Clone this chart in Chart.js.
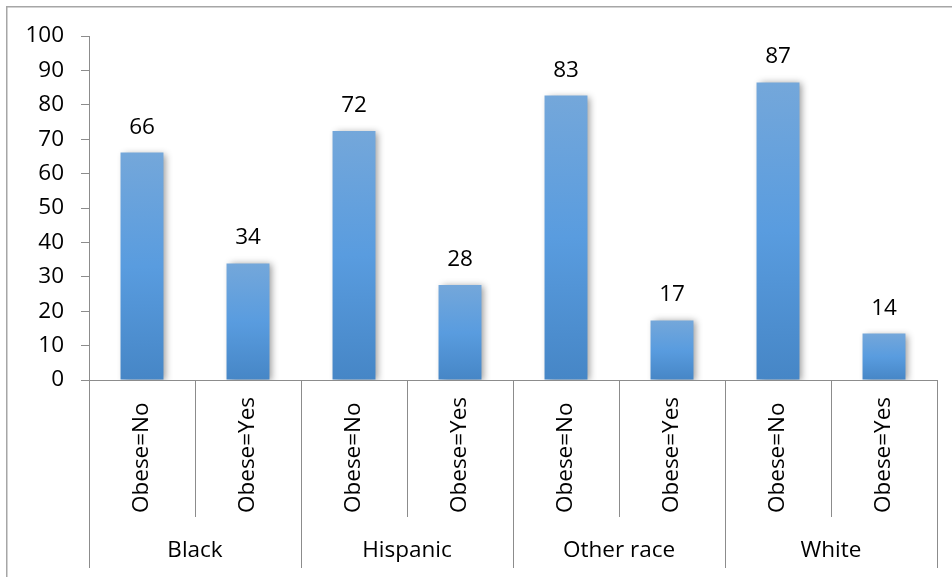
<!DOCTYPE html>
<html>
<head>
<meta charset="utf-8">
<script src="https://cdn.jsdelivr.net/npm/chart.js@4/dist/chart.umd.min.js"></script>
<style>
html,body{margin:0;padding:0;background:#fff;}
#wrap{width:952px;height:577px;position:relative;}
</style>
</head>
<body>
<div id="wrap"><canvas id="c" width="952" height="577"></canvas></div>
<script>
const groups = ["Black", "Hispanic", "Other race", "White"];
const subLabels = ["Obese=No", "Obese=Yes", "Obese=No", "Obese=Yes", "Obese=No", "Obese=Yes", "Obese=No", "Obese=Yes"];
const values = [66.1, 33.9, 72.4, 27.6, 82.7, 17.3, 86.5, 13.5];
const yTicks = [0, 10, 20, 30, 40, 50, 60, 70, 80, 90, 100];

const FONT = "'Open Sans', sans-serif";
const FSIZE = 22.5;
const AXIS_GRAY = "#8c8c8c";

function barGradient(ctx) {
  const chart = ctx.chart;
  const ys = chart.scales.y;
  if (!ys || ctx.type !== 'data') return '#5b9bd5';
  const top = ys.getPixelForValue(ctx.parsed.y);
  const bottom = ys.getPixelForValue(0);
  if (!isFinite(top) || !isFinite(bottom) || top === bottom) return '#5b9bd5';
  const g = chart.ctx.createLinearGradient(0, top, 0, bottom);
  g.addColorStop(0, '#74a7da');
  g.addColorStop(0.5, '#599cdf');
  g.addColorStop(1, '#4686c6');
  return g;
}

const shadowPlugin = {
  id: 'shadow',
  beforeDatasetsDraw(chart) {
    const c = chart.ctx;
    c.save();
    c.shadowColor = 'rgba(0,0,0,0.4)';
    c.shadowBlur = 7;
    c.shadowOffsetX = 3;
    c.shadowOffsetY = 1;
  },
  afterDatasetsDraw(chart) {
    chart.ctx.restore();
  }
};

const decoPlugin = {
  id: 'deco',
  afterDraw(chart) {
    const c = chart.ctx;
    const xs = chart.scales.x;
    const ys = chart.scales.y;
    const area = chart.chartArea;
    const base = ys.getPixelForValue(0);
    c.save();
    c.strokeStyle = '#a6a6a6';
    c.lineWidth = 1.5;
    c.beginPath();
    c.moveTo(6.75, 577);
    c.lineTo(6.75, 6.75);
    c.lineTo(952, 6.75);
    c.stroke();

    c.fillStyle = '#000';
    c.font = FSIZE + "px " + FONT;
    c.textAlign = 'center';
    c.textBaseline = 'alphabetic';
    const meta = chart.getDatasetMeta(0);
    meta.data.forEach((bar, i) => {
      c.fillText(String(Math.round(values[i])), bar.x, bar.y - 19);
    });

    c.strokeStyle = AXIS_GRAY;
    c.lineWidth = 1;
    c.beginPath();
    c.moveTo(area.left, Math.round(base) + 0.5);
    c.lineTo(area.right, Math.round(base) + 0.5);
    c.stroke();

    const n = subLabels.length;
    const half = (xs.getPixelForValue(1) - xs.getPixelForValue(0)) / 2;
    for (let i = 0; i <= n; i++) {
      const x = Math.round(i < n ? xs.getPixelForValue(i) - half : xs.getPixelForValue(n - 1) + half) + 0.5;
      const isGroup = i % 2 === 0;
      c.beginPath();
      c.moveTo(x, base);
      c.lineTo(x, isGroup ? 568 : 517);
      c.stroke();
    }

    c.fillStyle = '#000';
    c.font = FSIZE + "px " + FONT;
    for (let i = 0; i < n; i++) {
      const x = xs.getPixelForValue(i);
      c.save();
      c.translate(x, 513);
      c.rotate(-Math.PI / 2);
      c.textAlign = 'left';
      c.textBaseline = 'middle';
      c.fillText(subLabels[i], 0, 0);
      c.restore();
    }
    c.textAlign = 'center';
    c.textBaseline = 'middle';
    for (let g = 0; g < groups.length; g++) {
      const x = (xs.getPixelForValue(2 * g) + xs.getPixelForValue(2 * g + 1)) / 2;
      c.fillText(groups[g], x, 551);
    }
    c.restore();
  }
};

new Chart(document.getElementById('c'), {
  type: 'bar',
  data: {
    labels: subLabels.map((s, i) => groups[Math.floor(i / 2)] + ' ' + s),
    datasets: [{
      data: values,
      backgroundColor: barGradient,
      borderWidth: 0,
      barPercentage: 0.405,
      categoryPercentage: 1.0
    }]
  },
  options: {
    responsive: false,
    animation: false,
    devicePixelRatio: 1,
    layout: { padding: { top: 36, right: 15, bottom: 197, left: 0 } },
    plugins: {
      legend: { display: false },
      tooltip: { enabled: false }
    },
    scales: {
      x: {
        display: false,
        offset: true
      },
      y: {
        min: 0,
        max: 100,
        afterFit(scale) { scale.width = 89; },
        afterBuildTicks(scale) { scale.ticks = yTicks.map(v => ({ value: v })); },
        ticks: {
          color: '#000',
          font: { family: FONT, size: FSIZE },
          padding: 17
        },
        grid: {
          drawOnChartArea: false,
          drawTicks: true,
          tickLength: 8,
          color: AXIS_GRAY
        },
        border: { display: true, color: AXIS_GRAY, width: 1 }
      }
    }
  },
  plugins: [shadowPlugin, decoPlugin]
});
</script>
</body>
</html>
